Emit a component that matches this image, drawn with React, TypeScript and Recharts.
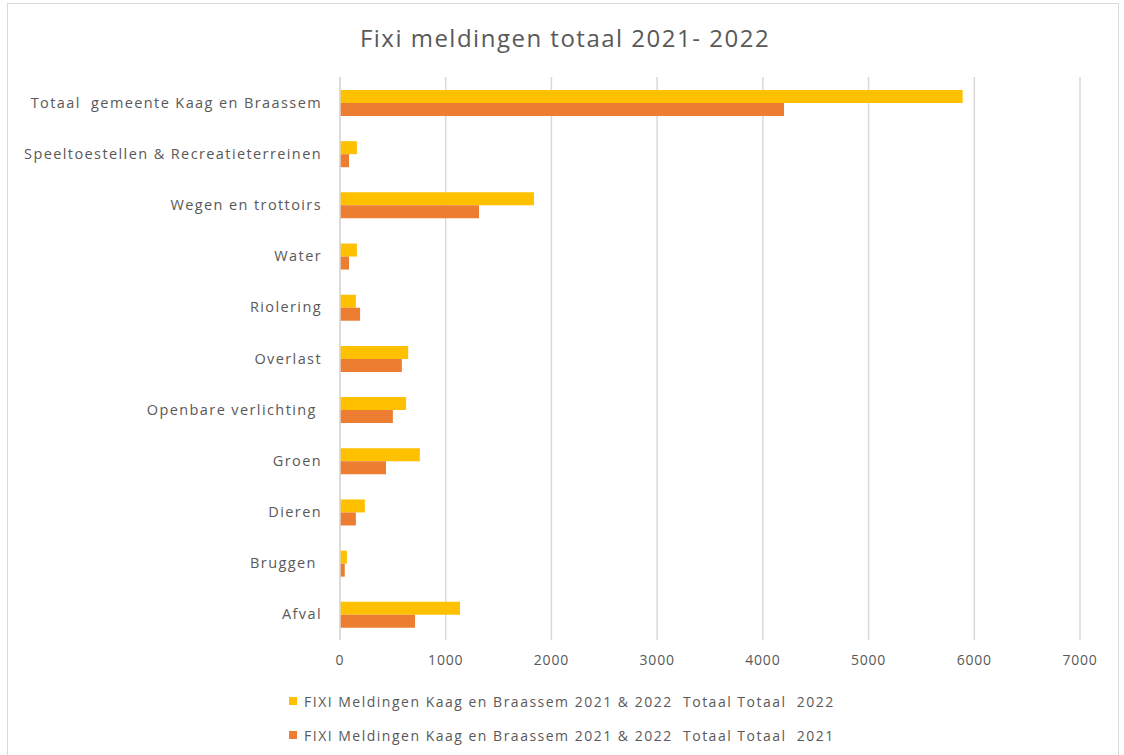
import React from "react";
import { BarChart, Bar, XAxis, YAxis, CartesianGrid } from "recharts";

const categories = [
  "Totaal  gemeente Kaag en Braassem",
  "Speeltoestellen & Recreatieterreinen",
  "Wegen en trottoirs",
  "Water",
  "Riolering",
  "Overlast",
  "Openbare verlichting ",
  "Groen",
  "Dieren",
  "Bruggen ",
  "Afval",
];
const totaal2022 = [5890, 160, 1835, 160, 150, 645, 625, 755, 235, 65, 1135];
const totaal2021 = [4200, 85, 1315, 85, 190, 585, 500, 435, 150, 45, 710];
const xTicks = [0, 1000, 2000, 3000, 4000, 5000, 6000, 7000];

const name2022 = "FIXI Meldingen Kaag en Braassem 2021 & 2022  Totaal Totaal  2022";
const name2021 = "FIXI Meldingen Kaag en Braassem 2021 & 2022  Totaal Totaal  2021";

const data = categories.map((c, i) => ({ cat: c, y2022: totaal2022[i], y2021: totaal2021[i] }));

const FONT = "'Open Sans', sans-serif";
const GRAY = "#595959";
const C2022 = "#FFC000";
const C2021 = "#ED7D31";

const legendItems = [
  { name: name2022, color: C2022 },
  { name: name2021, color: C2021 },
];

const YTick = (props: any) => {
  const { x, y, payload } = props;
  return (
    <text
      x={x}
      y={y}
      dy="0.35em"
      textAnchor="end"
      fill={GRAY}
      fontSize={14.5}
      fontFamily={FONT}
      letterSpacing={1.4}
      style={{ whiteSpace: "pre" }}
    >
      {payload.value}
    </text>
  );
};

const XTick = (props: any) => {
  const { x, y, payload } = props;
  return (
    <text x={x} y={y} dy="0.71em" textAnchor="middle" fill={GRAY} fontSize={14} fontFamily={FONT} letterSpacing={0.8}>
      {payload.value}
    </text>
  );
};

export default function App() {
  return (
    <div style={{ position: "absolute", left: 0, top: 0, width: 1124, height: 755, background: "#fff" }}>
      <div
        style={{
          position: "absolute",
          left: 7,
          top: 3,
          width: 1112,
          height: 760,
          border: "1px solid #d9d9d9",
          boxSizing: "border-box",
        }}
      />
      <div
        style={{
          position: "absolute",
          left: 0,
          top: 21,
          width: 1130,
          textAlign: "center",
          fontFamily: FONT,
          fontSize: 24,
          letterSpacing: 1.5,
          color: GRAY,
        }}
      >
        Fixi meldingen totaal 2021- 2022
      </div>
      <div style={{ position: "absolute", left: 0, top: 0 }}>
        <BarChart
          width={1124}
          height={755}
          data={data}
          layout="vertical"
          margin={{ top: 77, right: 44, bottom: 85, left: 0 }}
          barGap={0}
          barSize={13}
        >
          <CartesianGrid horizontal={false} vertical={true} stroke="#d9d9d9" strokeWidth={1.5} />
          <XAxis
            type="number"
            domain={[0, 7000]}
            ticks={xTicks}
            axisLine={false}
            tickLine={false}
            tickSize={0}
            tickMargin={15}
            height={30}
            tick={<XTick />}
          />
          <YAxis
            type="category"
            dataKey="cat"
            width={340}
            axisLine={{ stroke: "#d9d9d9", strokeWidth: 1.5 }}
            tickLine={false}
            tickSize={0}
            tickMargin={18}
            interval={0}
            tick={<YTick />}
          />
          <Bar dataKey="y2022" name={name2022} fill={C2022} isAnimationActive={false} />
          <Bar dataKey="y2021" name={name2021} fill={C2021} isAnimationActive={false} />
        </BarChart>
      </div>
      <div style={{ position: "absolute", left: 289, top: 684, fontFamily: FONT, fontSize: 14, letterSpacing: 1.5, color: GRAY }}>
        {legendItems.map((p, i) => (
          <div key={i} style={{ display: "flex", alignItems: "center", height: 34, whiteSpace: "pre" }}>
            <span style={{ display: "inline-block", width: 8, height: 8, background: p.color, marginRight: 7 }} />
            <span>{p.name}</span>
          </div>
        ))}
      </div>
    </div>
  );
}
